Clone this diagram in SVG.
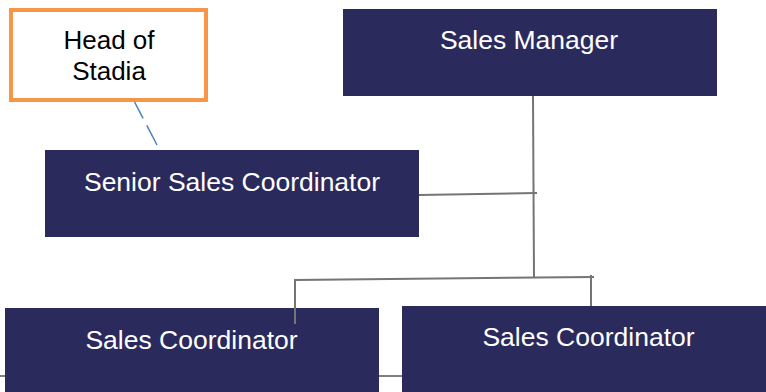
<svg xmlns="http://www.w3.org/2000/svg" width="766" height="392" viewBox="0 0 766 392">
  <style>
    .box { fill: #2b2a5c; }
    .lbl { font-family: "Liberation Sans", Arial, sans-serif; font-size: 26.5px; fill: #ffffff; text-anchor: middle; }
    .lbl-dark { font-family: "Liberation Sans", Arial, sans-serif; font-size: 26px; fill: #000000; text-anchor: middle; }
    .conn { stroke: #757575; stroke-width: 2; fill: none; }
  </style>
  <rect width="766" height="392" fill="#ffffff"/>

  <!-- thin baseline rule running behind the bottom row -->
  <line x1="0" y1="376" x2="404" y2="376" stroke="#000000" stroke-width="1"/>

  <g id="connectors">
    <polyline class="conn" points="533,96 534,278"/>
    <polyline class="conn" points="419,195 537,193"/>
    <polyline class="conn" points="295,324 295,280 594,277"/>
    <polyline class="conn" points="591,275 591,306"/>
    <line x1="132" y1="97" x2="157" y2="145" stroke="#4f81bd" stroke-width="1.5" stroke-dasharray="24,8"/>
  </g>

  <g id="head-of-stadia">
    <rect x="11" y="10" width="195" height="90" fill="#ffffff" stroke="#f79646" stroke-width="4"/>
    <text class="lbl-dark" x="109" y="49">Head of</text>
    <text class="lbl-dark" x="109" y="80">Stadia</text>
  </g>

  <g id="sales-manager">
    <rect class="box" x="343" y="9" width="374" height="87"/>
    <text class="lbl" x="529" y="49">Sales Manager</text>
  </g>

  <g id="senior-sales-coordinator">
    <rect class="box" x="45" y="150" width="374" height="87"/>
    <text class="lbl" x="232" y="191">Senior Sales Coordinator</text>
  </g>

  <g id="sales-coordinator-left">
    <rect class="box" x="5" y="308" width="374" height="84"/>
    <text class="lbl" x="191.5" y="349">Sales Coordinator</text>
  </g>

  <g id="sales-coordinator-right">
    <rect class="box" x="402" y="306" width="364" height="86"/>
    <text class="lbl" x="588.5" y="346">Sales Coordinator</text>
  </g>

  <!-- short stub of the left branch, drawn over its box -->
  <line class="conn" x1="295" y1="306" x2="295" y2="324"/>
</svg>
